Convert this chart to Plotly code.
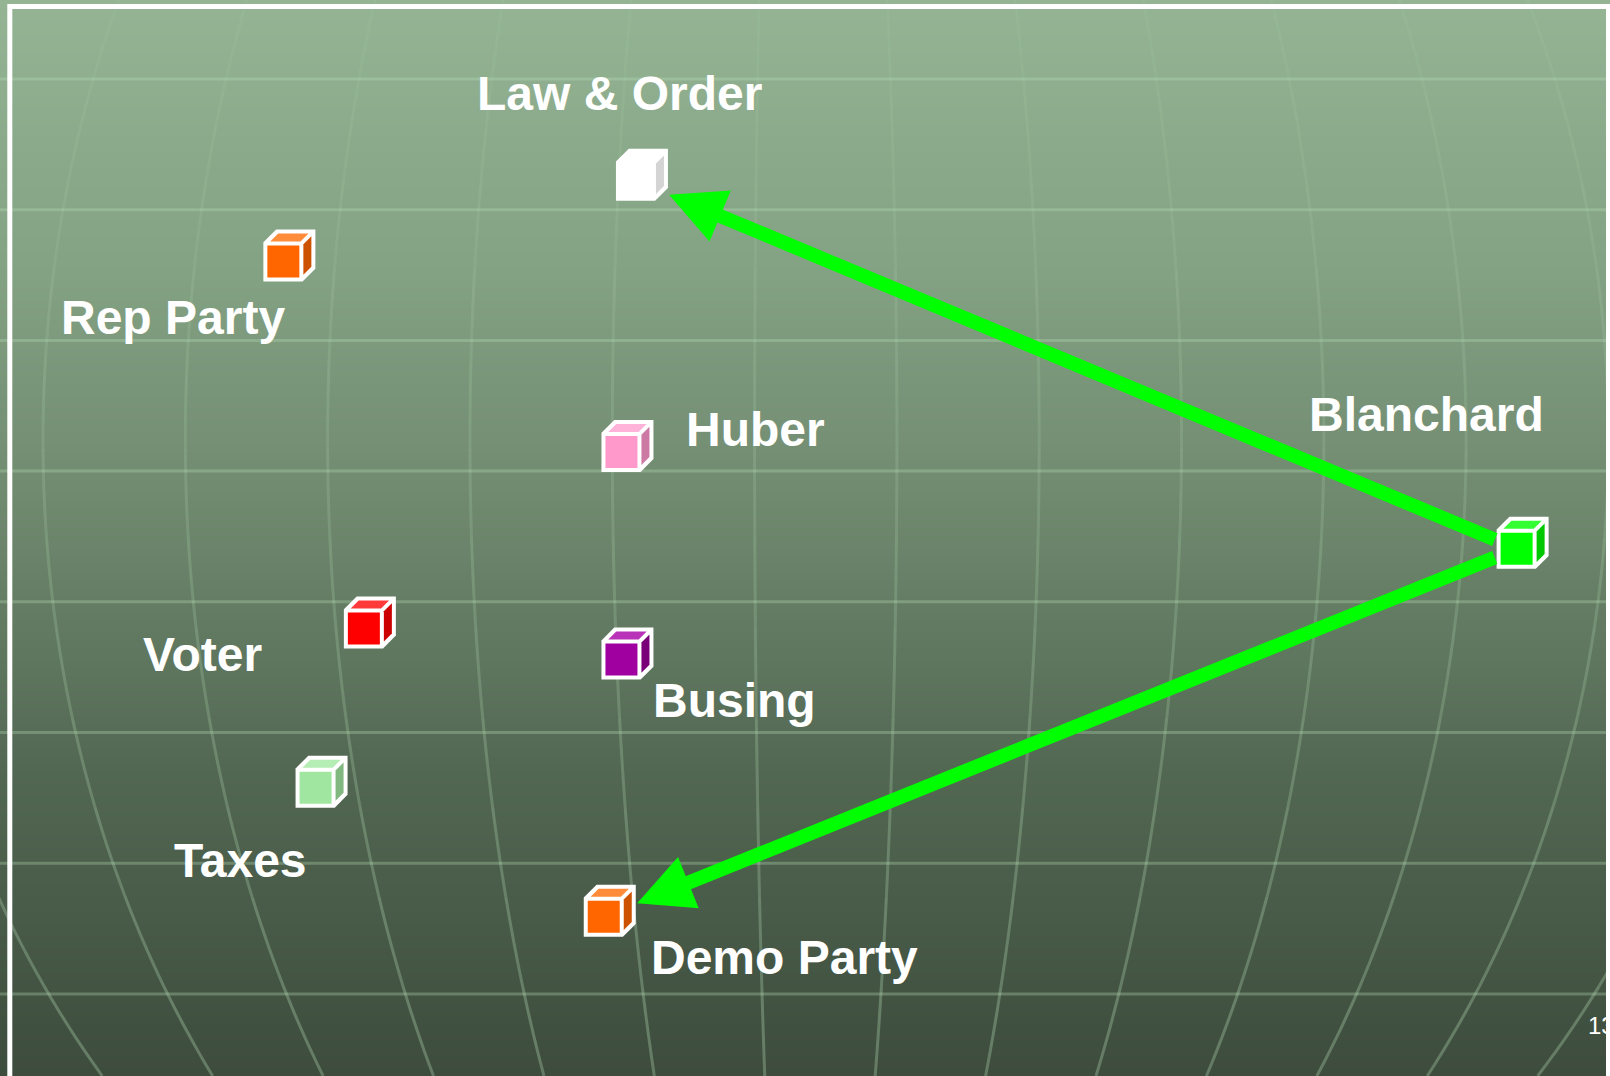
import numpy as np
import plotly.graph_objects as go

W, H = 1610, 1076

# ---------------- data ----------------
names = ["Law & Order", "Rep Party", "Huber", "Blanchard", "Voter", "Busing", "Taxes", "Demo Party"]
pos_x = [39.5, 17.6, 38.6, 94.2, 22.6, 38.6, 19.6, 37.5]
pos_y = [83.2, 75.7, 58.0, 49.0, 41.6, 38.7, 26.8, 14.8]
arrow_from = "Blanchard"
arrow_to = ["Law & Order", "Demo Party"]
slide_number = "13"

# ---------------- styles ----------------
# (front, top, side) face colours per item
face_colors = {
    "Law & Order": ("#ffffff", "#ffffff", "#d4d4d4"),
    "Rep Party": ("#ff6600", "#ff8c3a", "#cc5200"),
    "Huber": ("#ff99cc", "#ffb3d9", "#cc7aa3"),
    "Blanchard": ("#00ff00", "#33ff33", "#00c800"),
    "Voter": ("#ff0000", "#ff3a3a", "#cc0000"),
    "Busing": ("#a000a0", "#b833b8", "#7a007a"),
    "Taxes": ("#a0e6a0", "#b5eeb5", "#80b880"),
    "Demo Party": ("#ff6600", "#ff8c3a", "#cc5200"),
}
# label offsets in pixels (x right, y up)
label_shift = {
    "Law & Order": (-16, 87),
    "Rep Party": (-110, -56),
    "Huber": (134, 22),
    "Blanchard": (-90, 134),
    "Voter": (-161, -26),
    "Busing": (113, -41),
    "Taxes": (-75, -73),
    "Demo Party": (181, -41),
}
FONT = "Liberation Sans, Arial, Helvetica, sans-serif"

shapes = []

# background vertical gradient
stops_y = [0, 275, 495, 775, 1076]
stops_rgb = [(148, 180, 148), (131, 161, 131), (112, 138, 112), (82, 103, 82), (61, 76, 61)]
band = 4
for y in range(0, H, band):
    yc = y + band / 2
    r = int(round(np.interp(yc, stops_y, [c[0] for c in stops_rgb])))
    g = int(round(np.interp(yc, stops_y, [c[1] for c in stops_rgb])))
    b = int(round(np.interp(yc, stops_y, [c[2] for c in stops_rgb])))
    shapes.append(dict(type="rect", xref="paper", yref="paper", x0=0, x1=1,
                       y0=1 - (y + band + 0.6) / H, y1=1 - y / H,
                       fillcolor=f"rgb({r},{g},{b})", line=dict(width=0), layer="below"))

GRID_RGB = "185,225,185"

# curved meridian grid
cx, A, y0c, B = 800.0, 757.0, 440.0, 1008.0
def gfun(yy):
    return A * np.sqrt(np.clip(1 - ((yy - y0c) / B) ** 2, 0, None))

nseg = 12
seg_edges = np.linspace(0, H, nseg + 1)
for i in range(-1, 15):
    k = -0.06 + 0.188 * (i - 6)
    for s in range(nseg):
        ys = np.linspace(seg_edges[s], seg_edges[s + 1], 8)
        xs = cx + k * gfun(ys)
        path = "M" + " L".join(f"{x / W:.5f},{1 - yy / H:.5f}" for x, yy in zip(xs, ys))
        ymid = (seg_edges[s] + seg_edges[s + 1]) / 2
        alpha = 0.07 + 0.26 * (ymid / H)
        shapes.append(dict(type="path", xref="paper", yref="paper", path=path,
                           line=dict(color=f"rgba({GRID_RGB},{alpha:.3f})", width=3),
                           layer="below"))

# horizontal grid lines
for j in range(8):
    py = 79 + 130.7 * j
    shapes.append(dict(type="line", xref="paper", yref="paper", x0=0, x1=1,
                       y0=1 - py / H, y1=1 - py / H,
                       line=dict(color=f"rgba({GRID_RGB},0.32)", width=3), layer="below"))

# white frame
shapes.append(dict(type="rect", xref="paper", yref="paper",
                   x0=9.8 / W, x1=1608.5 / W, y0=1 - 1095 / H, y1=1 - 6.5 / H,
                   line=dict(color="white", width=5), fillcolor="rgba(0,0,0,0)", layer="below"))

# cubes: white silhouette + inset coloured faces (pixel-sized, anchored at data positions)
def poly(pts):
    return "M" + " L".join(f"{a:.2f},{b:.2f}" for a, b in pts) + " Z"

silhouette = poly([(-20, -20), (19.2, -20), (32, -7.2), (32, 32), (-7.2, 32), (-20, 19.2)])
front_path = poly([(-16, -16), (16, -16), (16, 16), (-16, 16)])
top_path = poly([(-13.2, 20), (17.2, 20), (25.2, 28), (-5.2, 28)])
side_path = poly([(20, -13.2), (28, -5.2), (28, 25.2), (20, 17.2)])
for n, x, y in zip(names, pos_x, pos_y):
    front, top, side = face_colors[n]
    for p, col in ((silhouette, "#ffffff"), (top_path, top), (side_path, side), (front_path, front)):
        shapes.append(dict(type="path", xref="x", yref="y", xsizemode="pixel", ysizemode="pixel",
                           xanchor=x, yanchor=y, path=p, fillcolor=col,
                           line=dict(width=0), layer="above"))

annotations = []
# arrows
ix = {n: i for i, n in enumerate(names)}
aw = 14
for t in arrow_to:
    annotations.append(dict(x=pos_x[ix[t]], y=pos_y[ix[t]], xref="x", yref="y",
                            ax=pos_x[ix[arrow_from]], ay=pos_y[ix[arrow_from]], axref="x", ayref="y",
                            text="", showarrow=True, arrowhead=2, arrowsize=0.85 * 13 / aw, arrowwidth=aw,
                            arrowcolor="#00ff00", standoff=36, startstandoff=22))
# labels
for n, x, y in zip(names, pos_x, pos_y):
    sx, sy = label_shift[n]
    annotations.append(dict(x=x, y=y, xref="x", yref="y", text=f"<b>{n}</b>", showarrow=False,
                            xshift=sx, yshift=sy, xanchor="center", yanchor="middle",
                            font=dict(family=FONT, size=48, color="white")))
# slide number (cut off at the right edge, as on the original slide)
annotations.append(dict(x=1586 / W, y=1 - 1025 / H, xref="paper", yref="paper", text=slide_number,
                        showarrow=False, xanchor="left", yanchor="middle",
                        font=dict(family=FONT, size=24, color="white")))

fig = go.Figure()
fig.add_trace(go.Scatter(x=pos_x, y=pos_y, mode="markers", text=names, hoverinfo="text",
                         marker=dict(size=30, opacity=0), showlegend=False))
fig.update_layout(
    width=W, height=H, autosize=False,
    margin=dict(l=0, r=0, t=0, b=0, pad=0),
    paper_bgcolor="rgb(105,130,105)", plot_bgcolor="rgba(0,0,0,0)",
    xaxis=dict(range=[0, 100], visible=False, fixedrange=True),
    yaxis=dict(range=[0, 100], visible=False, fixedrange=True),
    shapes=shapes, annotations=annotations, showlegend=False,
)
fig.write_html("out.html", config={"displayModeBar": False},
               post_script="document.body.style.margin='0';document.body.style.overflow='hidden';")
